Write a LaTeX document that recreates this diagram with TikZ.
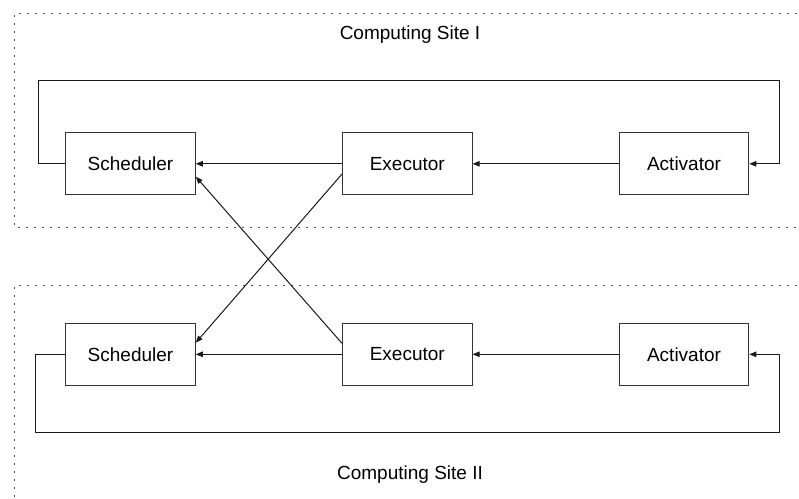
\documentclass[tikz,border=0pt]{standalone}
\usepackage{fontspec}
\setmainfont{Liberation Sans}
\usetikzlibrary{arrows.meta}
\begin{document}
\begin{tikzpicture}[x=1pt,y=-1pt,
  box/.style={draw=black!80, line width=1pt, minimum width=129.6pt, minimum height=62.3pt, inner sep=0pt, font=\fontsize{19}{23}\selectfont},
  conn/.style={draw=black!90, line width=1pt, -{Triangle[length=7pt,width=5.5pt]}},
  site/.style={draw=black!70, line width=1.1pt, dash pattern=on 1.8pt off 6.2pt},
  title/.style={font=\fontsize{19}{23}\selectfont}]
\useasboundingbox (0,0) rectangle (799,498);
\clip (0,0) rectangle (799,498);
% site frames
\draw[site] (805,13.3) -- (14.7,13.3) -- (14.7,227.7) -- (805,227.7);
\draw[site] (805,285.3) -- (14.7,285.3) -- (14.7,505);
% titles
\node[title] (t1) at (410,35) {Computing Site I};
\node[title] (t2) at (410,475) {Computing Site II};
% boxes
\node[box] (s1) at (130.5,163.8) {Scheduler};
\node[box] (e1) at (407.3,163.8) {Executor};
\node[box] (a1) at (684,163.8) {Activator};
\node[box] (s2) at (130.5,354.3) {Scheduler};
\node[box] (e2) at (407.3,354.3) {Executor};
\node[box] (a2) at (684,354.3) {Activator};
% loop coordinates
\coordinate (l1) at (38.7,80.7);
\coordinate (r1) at (779.3,80.7);
\coordinate (l2) at (35.3,432.7);
\coordinate (r2) at (779.3,432.7);
% horizontal arrows
\draw[conn] (a1.west) -- (e1.east);
\draw[conn] (e1.west) -- (s1.east);
\draw[conn] (a2.west) -- (e2.east);
\draw[conn] (e2.west) -- (s2.east);
% loops
\draw[conn] (s1.west) -| (l1) -- (r1) |- (a1.east);
\draw[conn] (s2.west) -| (l2) -- (r2) |- (a2.east);
% cross arrows
\draw[conn] ([yshift=-10.2pt]e1.west) -- ([yshift=11.6pt]s2.east);
\draw[conn] ([yshift=11pt]e2.west) -- ([yshift=-12.9pt]s1.east);
\end{tikzpicture}
\end{document}
